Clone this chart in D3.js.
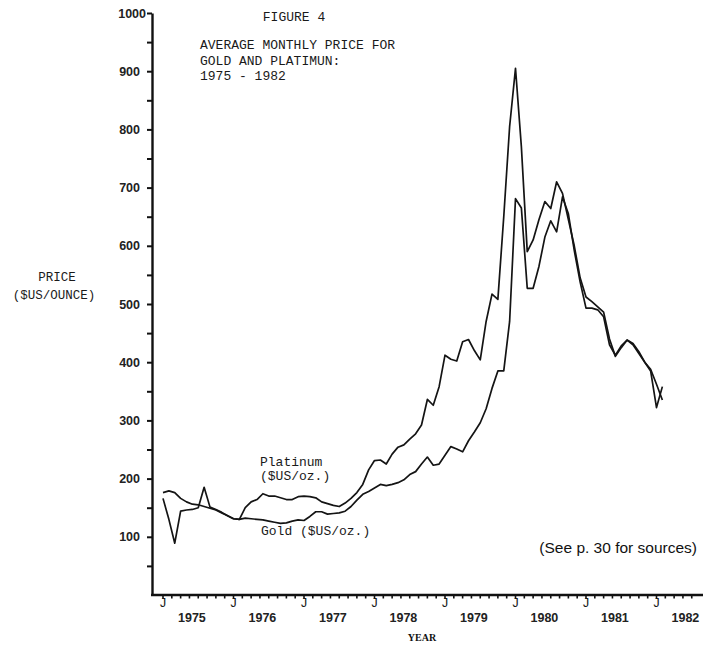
<!DOCTYPE html>
<html lang="en">
<head>
<meta charset="UTF-8">
<title>Figure 4 - Average monthly price for gold and platinum 1975-1982</title>
<script src="https://d3js.org/d3.v7.min.js"></script>
<style>
  body { margin: 0; background: #fff; }
  svg { display: block; }
  .mono { font-family: "Courier New", Courier, "Liberation Mono", monospace; fill: #1a1a1a; }
  .num { font-family: "Liberation Sans", Arial, sans-serif; font-size: 12.5px; font-weight: bold; fill: #222; }
</style>
</head>
<body>
<svg width="703" height="645"></svg>
<script>
// monthly averages, starting January 1975 ($US per ounce)
const startYear = 1975;
const years = [1975, 1976, 1977, 1978, 1979, 1980, 1981, 1982];
const yTicks = [100, 200, 300, 400, 500, 600, 700, 800, 900, 1000];
const titleLines = ["AVERAGE MONTHLY PRICE FOR", "GOLD AND PLATIMUN:", "1975 - 1982"];

const gold = [
  176, 179, 176, 166, 160, 156, 155, 152, 149, 146, 141, 136,
  131, 130, 132, 131, 130, 129, 127, 125, 123, 124, 127, 129,
  128, 135, 143, 143, 139, 140, 141, 144, 152, 163, 173, 178,
  184, 190, 188, 190, 193, 198, 207, 212, 225, 237, 223, 225,
  240, 255, 251, 246, 265, 280, 296, 320, 355, 385, 385, 470,
  681, 665, 527, 527, 565, 615, 643, 624, 684, 655, 592, 538,
  493, 493, 490, 478, 430, 412, 428, 438, 432, 418, 400, 388,
  362, 335
];
const platinum = [
  166, 130, 89, 144, 146, 147, 150, 185, 151, 147, 142, 136,
  131, 130, 150, 160, 164, 174, 170, 170, 167, 164, 164, 169,
  170, 169, 167, 160, 157, 154, 152, 158, 166, 176, 190, 215,
  231, 232, 225, 242, 254, 258, 268, 277, 292, 336, 326, 358,
  412, 405, 402, 435, 439, 420, 404, 470, 517, 508, 650, 805,
  905, 770, 590, 610, 645, 676, 664, 710, 690, 645, 600, 545,
  512, 504, 495, 486, 440, 410, 425, 438, 430, 415, 400, 385,
  322, 358
];

const svg = d3.select("svg");

const x = d3.scaleLinear().domain([1975, 1982]).range([163, 656.5]);
const y = d3.scaleLinear().domain([0, 1000]).range([595, 13]);
const axisX = 152;

// y axis
const yAxis = svg.append("g")
  .attr("transform", `translate(${axisX},0)`)
  .call(d3.axisLeft(y)
    .tickValues(d3.range(50, 1001, 50))
    .tickSize(5)
    .tickSizeOuter(0)
    .tickPadding(7)
    .tickFormat(d => yTicks.includes(d) ? d : ""));
yAxis.select(".domain").attr("stroke", "#111").attr("stroke-width", 2.4);
yAxis.selectAll(".tick line").attr("stroke", "#111").attr("stroke-width", 2);
yAxis.selectAll(".tick text").attr("class", "num").attr("font-size", null).attr("font-family", null);
yAxis.selectAll(".tick").filter(d => d === 1000).select("text").attr("x", -6);

// x axis: baseline, small ticks, J marks and year labels
svg.append("line")
  .attr("x1", axisX - 1).attr("x2", 703)
  .attr("y1", y(0)).attr("y2", y(0))
  .attr("stroke", "#111").attr("stroke-width", 2.4);

const minor = d3.range(0, 61).map(k => startYear + k / 8).filter(v => x(v) < 702);
svg.append("g").selectAll("line")
  .data(minor)
  .join("line")
  .attr("x1", d => x(d)).attr("x2", d => x(d))
  .attr("y1", y(0)).attr("y2", y(0) + 3.5)
  .attr("stroke", "#111").attr("stroke-width", 1.6);

svg.append("g").selectAll("text")
  .data(years)
  .join("text")
  .attr("class", "mono")
  .attr("x", d => x(d))
  .attr("y", y(0) + 12)
  .attr("text-anchor", "middle")
  .attr("font-size", 13)
  .text("J");

svg.append("g").selectAll("text")
  .data(years)
  .join("text")
  .attr("class", "num")
  .attr("x", d => x(d + 0.41))
  .attr("y", y(0) + 27)
  .attr("text-anchor", "middle")
  .text(d => d);

svg.append("text")
  .attr("x", 422).attr("y", 641)
  .attr("text-anchor", "middle")
  .attr("font-family", "'Liberation Serif', 'Times New Roman', serif")
  .attr("font-weight", "bold")
  .attr("font-size", 10)
  .attr("fill", "#111")
  .text("YEAR");

// lines
const line = d3.line()
  .x((d, i) => x(startYear + i / 12))
  .y(d => y(d));

[gold, platinum].forEach(series => {
  svg.append("path")
    .datum(series)
    .attr("fill", "none")
    .attr("stroke", "#141414")
    .attr("stroke-width", 1.7)
    .attr("stroke-linejoin", "round")
    .attr("d", line);
});

// titles and labels
svg.append("text").attr("class", "mono")
  .attr("x", 294).attr("y", 21)
  .attr("text-anchor", "middle")
  .attr("font-size", 13)
  .text("FIGURE 4");

svg.append("g").selectAll("text")
  .data(titleLines)
  .join("text")
  .attr("class", "mono")
  .attr("x", 200)
  .attr("y", (d, i) => 49 + i * 15.5)
  .attr("font-size", 13)
  .text(d => d);

svg.append("text").attr("class", "mono")
  .attr("x", 57).attr("y", 281)
  .attr("text-anchor", "middle")
  .attr("font-size", 12.5)
  .text("PRICE");
svg.append("text").attr("class", "mono")
  .attr("x", 54).attr("y", 299)
  .attr("text-anchor", "middle")
  .attr("font-size", 12.5)
  .text("($US/OUNCE)");

svg.append("text").attr("class", "mono")
  .attr("x", 260).attr("y", 466)
  .attr("font-size", 13)
  .text("Platinum");
svg.append("text").attr("class", "mono")
  .attr("x", 260).attr("y", 480)
  .attr("font-size", 13)
  .text("($US/oz.)");
svg.append("text").attr("class", "mono")
  .attr("x", 261).attr("y", 535)
  .attr("font-size", 13)
  .text("Gold ($US/oz.)");

svg.append("text")
  .attr("x", 697).attr("y", 553)
  .attr("text-anchor", "end")
  .attr("font-family", "'Liberation Sans', Arial, sans-serif")
  .attr("font-size", 15.5)
  .attr("fill", "#111")
  .text("(See p. 30 for sources)");
</script>
</body>
</html>
